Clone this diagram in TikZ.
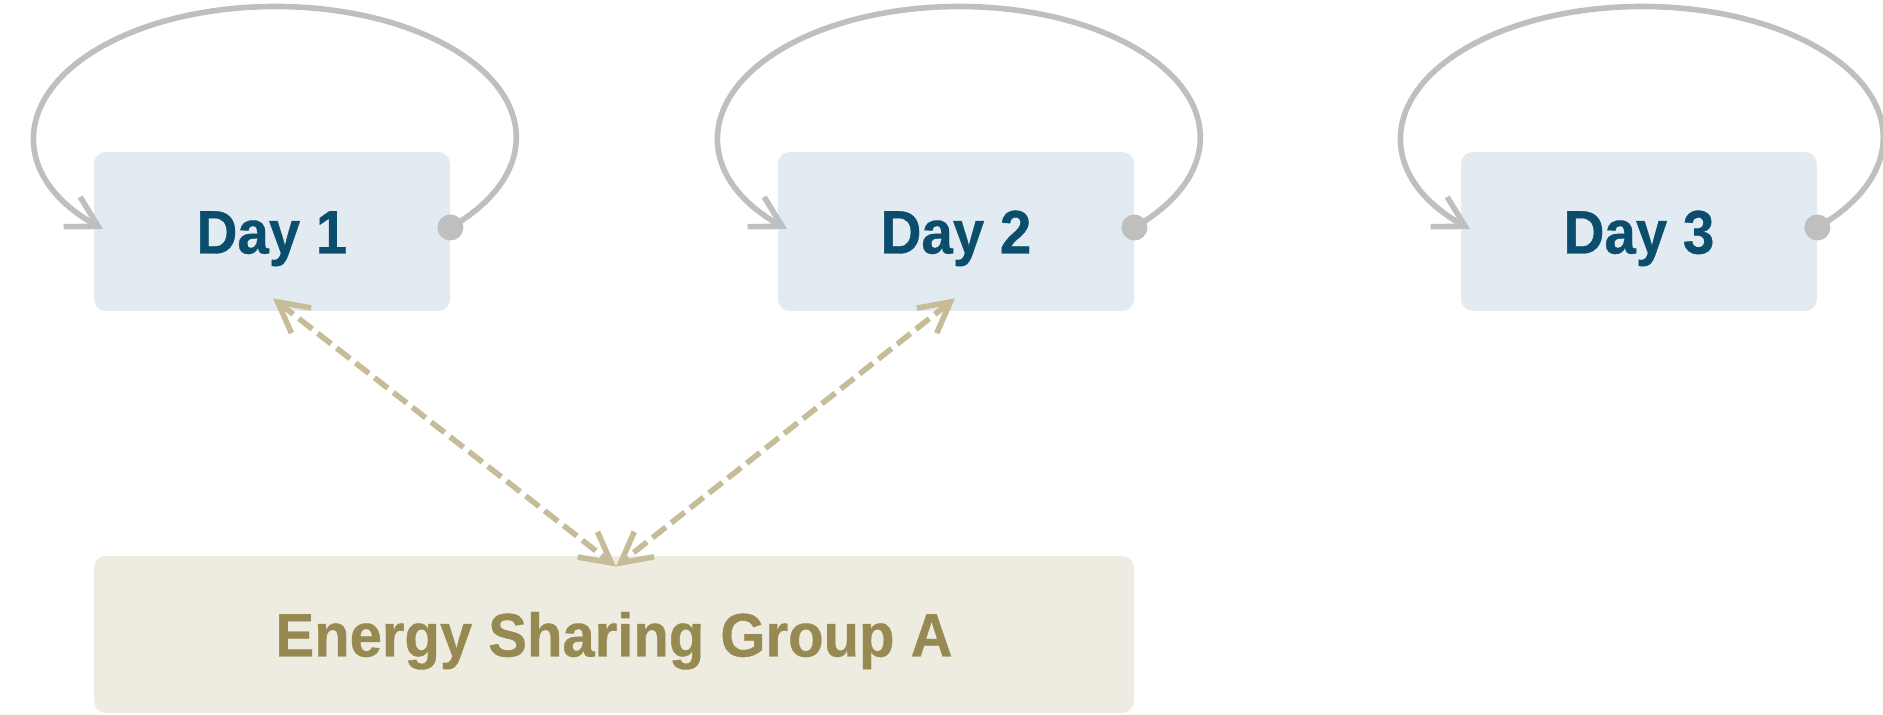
\documentclass[tikz,border=0pt]{standalone}
\usepackage{fontspec}
\setmainfont{Liberation Sans}
\newfontfamily\dayfont{Liberation Sans Bold}[FakeStretch=0.92, FakeBold=0.6]
\newfontfamily\grpfont{Liberation Sans Bold}[FakeStretch=0.945, FakeBold=0.6]
\usetikzlibrary{arrows.meta}
\definecolor{loopgray}{HTML}{BFBFBF}
\definecolor{tanline}{HTML}{C6BD98}
\definecolor{dayfill}{HTML}{E2EBF1}
\definecolor{daytext}{HTML}{0A4D6C}
\definecolor{grpfill}{HTML}{EEEBE0}
\definecolor{grptext}{HTML}{968A52}
\begin{document}
\begin{tikzpicture}[x=0.5pt,y=0.5pt,
  daybox/.style={rectangle, rounded corners=6pt, fill=dayfill, minimum width=178pt,
    minimum height=79.5pt, inner sep=0pt, text=daytext,
    font=\dayfont\fontsize{30.7}{36}\selectfont, text height=22pt, text depth=0pt},
  grpbox/.style={rectangle, rounded corners=6pt, fill=grpfill, minimum width=520pt,
    minimum height=78.5pt, inner sep=0pt, text=grptext,
    font=\grpfont\fontsize{30.7}{36}\selectfont, text height=22pt, text depth=0pt},
  dotmark/.style={circle, fill=loopgray, minimum size=13pt, inner sep=0pt},
  loopline/.style={draw=loopgray, line width=2.8pt, line cap=round,
    -{Straight Barb[length=15pt,width=17pt]}},
  shareline/.style={draw=tanline, line width=2.8pt, dash pattern=on 8.5pt off 3.5pt,
    {Straight Barb[length=15pt,width=16pt]}-{Straight Barb[length=15pt,width=16pt]}}
]
\useasboundingbox (0,0) rectangle (1883,715);

\node[daybox] (d1) at (272,483.5) {Day 1};
\node[daybox] (d2) at (956,483.5) {Day 2};
\node[daybox] (d3) at (1639,483.5) {Day 3};
\node[grpbox] (g) at (614,80.5) {Energy Sharing Group A};

\foreach \n in {d1,d2,d3}{
  \node[dotmark] (\n dot) at ([yshift=2pt]\n.east) {};
  \draw[loopline] (\n dot.center) arc[start angle=-43.4, end angle=224.4, x radius=241, y radius=131];
}

\coordinate (gtip) at ([xshift=1pt,yshift=-5.5pt]g.north);
\coordinate (d1tip) at ([xshift=0.5pt,yshift=6.5pt]d1.south);
\coordinate (d2tip) at ([xshift=-0.5pt,yshift=6.5pt]d2.south);
\draw[shareline] (d1tip) -- (gtip);
\draw[shareline] (d2tip) -- (gtip);
\end{tikzpicture}
\end{document}
